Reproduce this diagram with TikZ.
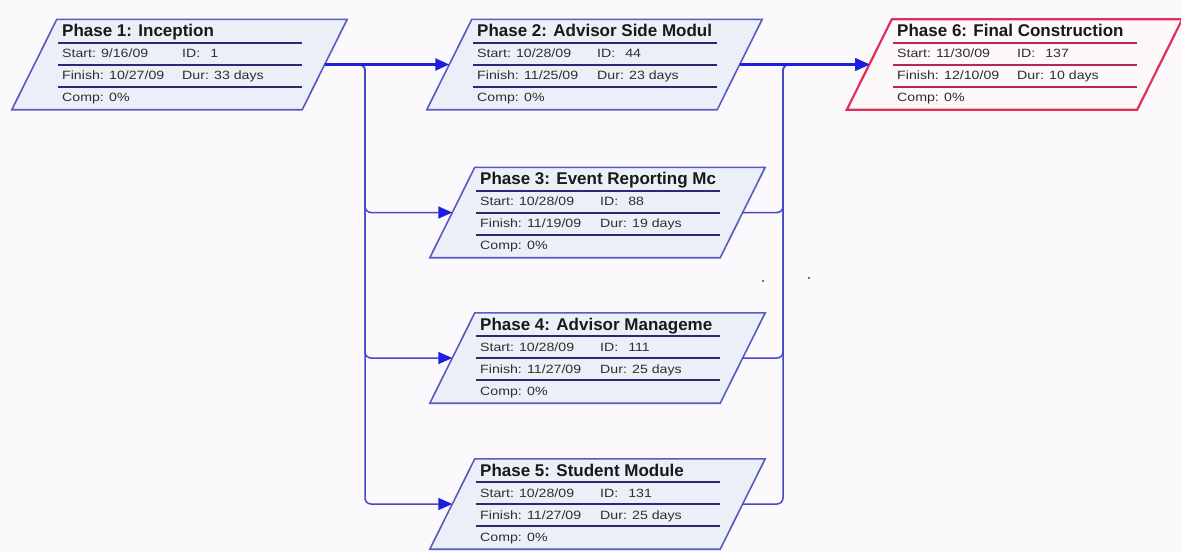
\documentclass[tikz,border=0pt]{standalone}
\usepackage{fontspec}
\setmainfont{Liberation Sans}
\newfontfamily\fieldfont[FakeStretch=1.18]{Liberation Sans}
\usetikzlibrary{calc,arrows.meta}
\definecolor{bg}{HTML}{FCF9FC}
\definecolor{boxfill}{HTML}{EBF0F8}
\definecolor{boxedge}{HTML}{5A5AC0}
\definecolor{rowlinec}{HTML}{2A2A74}
\definecolor{critedge}{HTML}{E0305A}
\definecolor{critrowc}{HTML}{B8284A}
\definecolor{critfill}{HTML}{FDF8FA}
\definecolor{mainarrow}{HTML}{1E1EE0}
\definecolor{subarrow}{HTML}{4646C8}
\definecolor{fieldtextc}{HTML}{2E2E2E}
\tikzset{
 frame/.style={rectangle, minimum width=290pt, minimum height=90pt, inner sep=0pt, draw=none},
 normalbox/.style={draw=boxedge, fill=boxfill, line width=1.6pt},
 normalrow/.style={draw=rowlinec, line width=2pt},
 critbox/.style={draw=critedge, fill=critfill, line width=2.2pt},
 critrow/.style={draw=critrowc, line width=2pt},
 titletext/.style={anchor=base west, inner sep=0pt, font=\fontsize{17}{20}\selectfont\bfseries, text=black!90},
 fieldtext/.style={anchor=base west, inner sep=0pt, font=\fieldfont\fontsize{12}{14}\selectfont, text=fieldtextc},
 critpath/.style={draw=mainarrow, line width=2.4pt, -{Triangle[length=14pt,width=12pt]}},
 branch/.style={draw=subarrow, line width=1.5pt, rounded corners=6pt, -{Triangle[length=14pt,width=12pt,color=mainarrow]}},
}
% #1 name, #2 position, #3 kind, #4 title, #5 start, #6 id, #7 finish, #8 dur
\newcommand{\phasebox}[8]{%
 \node[frame] (#1) at #2 {};
 \draw[#3box] ($(#1.south west)+(-22.5pt,0pt)$) -- ($(#1.north west)+(22.5pt,0pt)$)
   -- ($(#1.north east)+(22.5pt,0pt)$) -- ($(#1.south east)+(-22.5pt,0pt)$) -- cycle;
 \draw[#3row] ($(#1)+(-121.5,-22)$) -- ++(244,0);
 \draw[#3row] ($(#1)+(-121.5,0)$) -- ++(244,0);
 \draw[#3row] ($(#1)+(-121.5,22)$) -- ++(244,0);
 \node[titletext] (#1-t) at ($(#1)+(-117.5,-28)$) {#4};
 \node[fieldtext] (#1-s) at ($(#1)+(-117.5,-7)$) {Start:\hspace{5pt}#5};
 \node[fieldtext] (#1-i) at ($(#1)+(2.5,-7)$) {ID:\hspace{10pt}#6};
 \node[fieldtext] (#1-f) at ($(#1)+(-117.5,15)$) {Finish: #7};
 \node[fieldtext] (#1-d) at ($(#1)+(2.5,15)$) {Dur: #8};
 \node[fieldtext] (#1-c) at ($(#1)+(-117.5,37)$) {Comp: 0\%};
}
\begin{document}
\begin{tikzpicture}[x=1pt,y=-1pt]
\useasboundingbox (0,0) rectangle (1181,552);
\fill[bg] (0,0) rectangle (1181,552);
\phasebox{p1}{(179.5,64.5)}{normal}{Phase 1: Inception}{9/16/09}{1}{10/27/09}{33 days}
\phasebox{p2}{(594.5,64.5)}{normal}{Phase 2: Advisor Side Modul}{10/28/09}{44}{11/25/09}{23 days}
\phasebox{p3}{(597.5,212.5)}{normal}{Phase 3: Event Reporting Mc}{10/28/09}{88}{11/19/09}{19 days}
\phasebox{p4}{(597.5,358)}{normal}{Phase 4: Advisor Manageme}{10/28/09}{111}{11/27/09}{25 days}
\phasebox{p5}{(597.5,504)}{normal}{Phase 5: Student Module}{10/28/09}{131}{11/27/09}{25 days}
\phasebox{p6}{(1014.5,64.5)}{crit}{Phase 6: Final Construction}{11/30/09}{137}{12/10/09}{10 days}
\coordinate (sx) at (365,0);
\coordinate (jx) at (783,0);
\draw[branch] (p1.east) -- (p1.east -| sx) -- (p3.west -| sx) -- (p3.west);
\draw[branch] (p1.east) -- (p1.east -| sx) -- (p4.west -| sx) -- (p4.west);
\draw[branch] (p1.east) -- (p1.east -| sx) -- (p5.west -| sx) -- (p5.west);
\draw[branch] (p3.east) -- (p3.east -| jx) -- (p6.west -| jx) -- (p6.west);
\draw[branch] (p4.east) -- (p4.east -| jx) -- (p6.west -| jx) -- (p6.west);
\draw[branch] (p5.east) -- (p5.east -| jx) -- (p6.west -| jx) -- (p6.west);
\draw[critpath] (p1.east) -- (p2.west);
\draw[critpath] (p2.east) -- (p6.west);
\fill[black!75] (763,281) circle (1.2pt);
\fill[black!75] (809,278) circle (1.2pt);
\end{tikzpicture}
\end{document}
